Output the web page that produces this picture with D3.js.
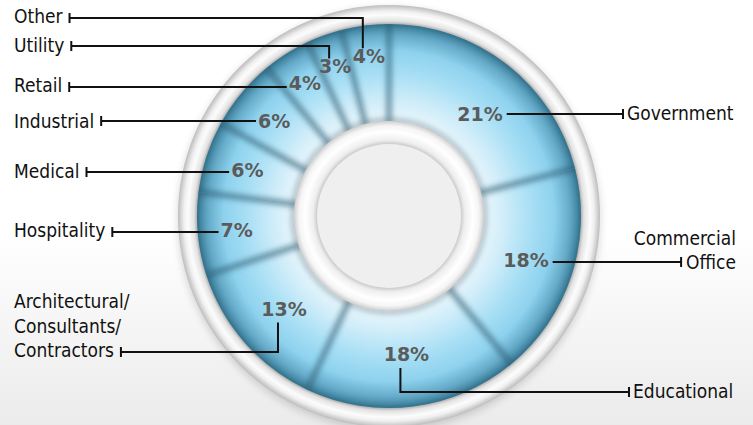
<!DOCTYPE html>
<html lang="en">
<head>
<meta charset="UTF-8">
<title>Market share donut</title>
<script src="https://d3js.org/d3.v7.min.js"></script>
<style>
  html, body { margin: 0; padding: 0; background: #fff; }
  svg { display: block; }
  .cat { font-family: "DejaVu Sans Condensed", "DejaVu Sans", sans-serif; font-stretch: condensed; font-size: 19px; fill: #111; }
  .pct { font-family: "DejaVu Sans", sans-serif; font-weight: bold; font-size: 19px; fill: #5b5b5b; }
  .leader { stroke: #111; stroke-width: 2; fill: none; }
</style>
</head>
<body>
<svg id="chart"></svg>
<script>
// data, clockwise from 12 o'clock
const categories = ["Government", "Commercial Office", "Educational", "Architectural/ Consultants/ Contractors",
                    "Hospitality", "Medical", "Industrial", "Retail", "Utility", "Other"];
const shares = [21, 18, 18, 13, 7, 6, 6, 4, 3, 4];

// label layout (text rows, leader rows, how the leader meets the % label)
const labelLines = [["Government"], ["Commercial", "Office"], ["Educational"],
                    ["Architectural/", "Consultants/", "Contractors"], ["Hospitality"], ["Medical"],
                    ["Industrial"], ["Retail"], ["Utility"], ["Other"]];
const labelSide = ["right", "right", "right", "left", "left", "left", "left", "left", "left", "left"];
const labelBase = [120, 269, 398, 357, 237, 178, 128, 92, 52, 23];
const leaderY   = [114, 262, 392, 352, 232, 172, 121, 87, 46, 18];
const leaderKind = ["h", "h", "below", "below", "h", "h", "h", "h", "above", "above"];
const pctRadius = [137, 144, 139, 140, 153, 149, 149, 157, 159, 161];
const pctTurn   = [3.8, 0, 0, 0, 0, 0, 0, 0, 0, 0];   // degrees off the slice centre

const W = 753, H = 425;
const cx = 389, cy = 216;
const rHole = 72, rRing = 95, rOuter = 192, rBezel = 211;

const svg = d3.select("#chart").attr("width", W).attr("height", H);
const defs = svg.append("defs");

// background
const bg = defs.append("linearGradient").attr("id", "bg").attr("x1", 0).attr("y1", 0).attr("x2", 0).attr("y2", 1);
bg.append("stop").attr("offset", 0).attr("stop-color", "#ffffff");
bg.append("stop").attr("offset", 0.55).attr("stop-color", "#ffffff");
bg.append("stop").attr("offset", 1).attr("stop-color", "#ebebeb");
svg.append("rect").attr("width", W).attr("height", H).attr("fill", "url(#bg)");

// gradients live in the centred group's coordinates
function radial(id, r, stops) {
  const gr = defs.append("radialGradient").attr("id", id)
    .attr("gradientUnits", "userSpaceOnUse").attr("cx", 0).attr("cy", 0).attr("r", r);
  stops.forEach(s => gr.append("stop").attr("offset", s[0]).attr("stop-color", s[1]));
}
radial("bezel", rBezel, [[0, "#bbbbbb"], [rOuter / rBezel, "#b0b0b0"], [(rOuter + 3) / rBezel, "#e2e2e2"],
                         [(rOuter + 9) / rBezel, "#fcfcfc"], [(rOuter + 13) / rBezel, "#f0f0f0"], [1, "#bdbdbd"]]);
radial("blue", rOuter, [[rRing / rOuter, "#eaf7fd"], [0.6, "#d0edf9"], [0.74, "#a8dff5"], [0.86, "#8ed2ee"],
                        [0.94, "#66acca"], [1, "#397a96"]]);
radial("ring", rRing, [[rHole / rRing, "#cccccc"], [(rHole + 4) / rRing, "#eeeeee"], [(rHole + 12) / rRing, "#ffffff"],
                       [(rRing - 5) / rRing, "#f5f5f5"], [1, "#cfcfcf"]]);

const blur = (id, sd) => defs.append("filter").attr("id", id).attr("filterUnits", "userSpaceOnUse")
  .attr("x", -260).attr("y", -260).attr("width", 520).attr("height", 520)
  .append("feGaussianBlur").attr("stdDeviation", sd);
blur("soft", 2.6);
blur("shadow", 4);

defs.append("clipPath").attr("id", "blueClip")
  .append("path").attr("d", d3.arc().innerRadius(rRing).outerRadius(rOuter).startAngle(0).endAngle(2 * Math.PI)());

const g = svg.append("g").attr("transform", `translate(${cx},${cy})`);

// bezel with drop shadow
g.append("circle").attr("r", rBezel).attr("cy", 3).attr("fill", "#000").attr("opacity", 0.16).attr("filter", "url(#shadow)");
g.append("circle").attr("r", rBezel).attr("fill", "url(#bezel)");

// donut slices
const pie = d3.pie().sort(null).value(d => d)(shares);
const arc = d3.arc().innerRadius(rRing).outerRadius(rOuter);
g.selectAll("path.slice").data(pie).join("path")
  .attr("class", "slice").attr("d", arc).attr("fill", "url(#blue)");

// soft dark seams between slices
const seams = g.append("g").attr("clip-path", "url(#blueClip)");
seams.selectAll("line").data(pie).join("line")
  .attr("x1", d => Math.sin(d.startAngle) * (rRing - 5))
  .attr("y1", d => -Math.cos(d.startAngle) * (rRing - 5))
  .attr("x2", d => Math.sin(d.startAngle) * rOuter)
  .attr("y2", d => -Math.cos(d.startAngle) * rOuter)
  .attr("stroke", "#2a5a70").attr("stroke-opacity", 0.5).attr("stroke-width", 7).attr("filter", "url(#soft)");
// inner shadow from the bezel and the inner ring
seams.append("circle").attr("r", rOuter + 2).attr("fill", "none").attr("stroke", "#1f4d62")
  .attr("stroke-opacity", 0.35).attr("stroke-width", 6).attr("filter", "url(#soft)");
seams.append("circle").attr("r", rRing + 1).attr("fill", "none").attr("stroke", "#6a7f8a")
  .attr("stroke-opacity", 0.4).attr("stroke-width", 6).attr("filter", "url(#soft)");

// inner white ring and hole
g.append("circle").attr("r", rRing).attr("fill", "url(#ring)");
g.append("circle").attr("r", rHole).attr("fill", "#efefef");

// percentage labels
const pctPos = pie.map((d, i) => {
  const a = (d.startAngle + d.endAngle) / 2 + pctTurn[i] * Math.PI / 180;
  return [cx + Math.sin(a) * pctRadius[i], cy - Math.cos(a) * pctRadius[i]];
});
const pctText = svg.selectAll("text.pct").data(pie).join("text")
  .attr("class", "pct").attr("text-anchor", "middle")
  .attr("x", (d, i) => pctPos[i][0]).attr("y", (d, i) => pctPos[i][1] + 7)
  .text(d => d.data + "%");
const pctBox = pctText.nodes().map(n => n.getBBox());

// category labels, leaders and end ticks
const lg = svg.append("g");
categories.forEach((c, i) => {
  const lines = labelLines[i];
  const n = lines.length;
  const rows = lines.map((t, k) => ({ t, y: labelBase[i] - (n - 1 - k) * 24.5 }));
  let tickX;
  if (labelSide[i] === "left") {
    const txt = lg.selectAll(null).data(rows).join("text").attr("class", "cat")
      .attr("x", 14).attr("y", r => r.y).text(r => r.t);
    tickX = 14 + txt.nodes()[n - 1].getComputedTextLength() + 7;
  } else {
    const multi = n > 1;
    const x0 = multi ? 736 : (i === 0 ? 627 : 633);
    const txt = lg.selectAll(null).data(rows).join("text").attr("class", "cat")
      .attr("text-anchor", multi ? "end" : "start")
      .attr("x", x0).attr("y", r => r.y).text(r => r.t);
    tickX = multi ? x0 - txt.nodes()[n - 1].getComputedTextLength() - 5 : x0 - 4;
  }
  const y = leaderY[i];
  const b = pctBox[i];
  const ex = b.x + b.width / 2 - 6;
  let pts;
  if (leaderKind[i] === "h") {
    const endX = labelSide[i] === "left" ? b.x - 2 : b.x + b.width + 4;
    pts = [[tickX, y], [endX, y]];
  } else if (leaderKind[i] === "above") {
    pts = [[tickX, y], [ex, y], [ex, b.y + 3]];
  } else {
    pts = [[tickX, y], [ex, y], [ex, b.y + b.height + 3]];
  }
  lg.append("path").attr("class", "leader").attr("d", d3.line()(pts));
  lg.append("line").attr("class", "leader").attr("stroke-width", 2.5)
    .attr("x1", tickX).attr("x2", tickX).attr("y1", y - 5).attr("y2", y + 5);
});
</script>
</body>
</html>
